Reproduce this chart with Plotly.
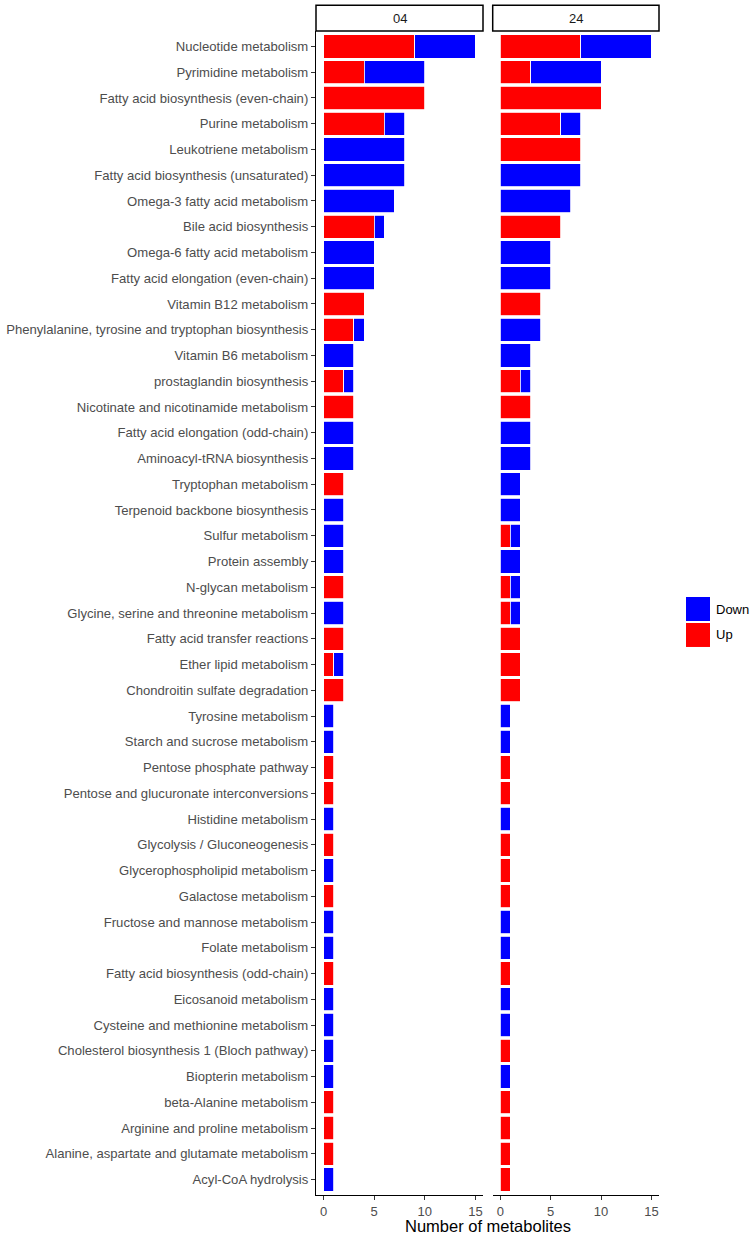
import plotly.graph_objects as go

pathways = [
    "Nucleotide metabolism",
    "Pyrimidine metabolism",
    "Fatty acid biosynthesis (even-chain)",
    "Purine metabolism",
    "Leukotriene metabolism",
    "Fatty acid biosynthesis (unsaturated)",
    "Omega-3 fatty acid metabolism",
    "Bile acid biosynthesis",
    "Omega-6 fatty acid metabolism",
    "Fatty acid elongation (even-chain)",
    "Vitamin B12 metabolism",
    "Phenylalanine, tyrosine and tryptophan biosynthesis",
    "Vitamin B6 metabolism",
    "prostaglandin biosynthesis",
    "Nicotinate and nicotinamide metabolism",
    "Fatty acid elongation (odd-chain)",
    "Aminoacyl-tRNA biosynthesis",
    "Tryptophan metabolism",
    "Terpenoid backbone biosynthesis",
    "Sulfur metabolism",
    "Protein assembly",
    "N-glycan metabolism",
    "Glycine, serine and threonine metabolism",
    "Fatty acid transfer reactions",
    "Ether lipid metabolism",
    "Chondroitin sulfate degradation",
    "Tyrosine metabolism",
    "Starch and sucrose metabolism",
    "Pentose phosphate pathway",
    "Pentose and glucuronate interconversions",
    "Histidine metabolism",
    "Glycolysis / Gluconeogenesis",
    "Glycerophospholipid metabolism",
    "Galactose metabolism",
    "Fructose and mannose metabolism",
    "Folate metabolism",
    "Fatty acid biosynthesis (odd-chain)",
    "Eicosanoid metabolism",
    "Cysteine and methionine metabolism",
    "Cholesterol biosynthesis 1 (Bloch pathway)",
    "Biopterin metabolism",
    "beta-Alanine metabolism",
    "Arginine and proline metabolism",
    "Alanine, aspartate and glutamate metabolism",
    "Acyl-CoA hydrolysis",
]

up_04 = [9, 4, 10, 6, 0, 0, 0, 5, 0, 0, 4, 3, 0, 2, 3, 0, 0, 2, 0, 0, 0, 2, 0, 2, 1, 2,
         0, 0, 1, 1, 0, 1, 0, 1, 0, 0, 1, 0, 0, 0, 0, 1, 1, 1, 0]
down_04 = [6, 6, 0, 2, 8, 8, 7, 1, 5, 5, 0, 1, 3, 1, 0, 3, 3, 0, 2, 2, 2, 0, 2, 0, 1, 0,
           1, 1, 0, 0, 1, 0, 1, 0, 1, 1, 0, 1, 1, 1, 1, 0, 0, 0, 1]
up_24 = [8, 3, 10, 6, 8, 0, 0, 6, 0, 0, 4, 0, 0, 2, 3, 0, 0, 0, 0, 1, 0, 1, 1, 2, 2, 2,
         0, 0, 1, 1, 0, 1, 1, 1, 0, 0, 1, 0, 0, 1, 0, 1, 1, 1, 1]
down_24 = [7, 7, 0, 2, 0, 8, 7, 0, 5, 5, 0, 4, 3, 1, 0, 3, 3, 2, 2, 1, 2, 1, 1, 0, 0, 0,
           1, 1, 0, 0, 1, 0, 0, 0, 1, 1, 0, 1, 1, 0, 1, 0, 0, 0, 0]

panels = ["04", "24"]
x_ticks = [0, 5, 10, 15]

RED = "#FF0000"
BLUE = "#0000FF"
FONT = "Liberation Sans, Arial, sans-serif"

W, H = 752, 1239
# target page positions of plot area
P_LEFT, P_RIGHT, P_TOP, P_BOTTOM = 316, 659, 30.5, 1195.5
ML = P_LEFT
MR = W - P_RIGHT
MT = P_TOP
MB = H - P_BOTTOM
PW = P_RIGHT - P_LEFT
PH = P_BOTTOM - P_TOP


def px_x(px):
    return (px - P_LEFT) / PW


def px_y(py):
    return (P_BOTTOM - py) / PH


def nz(v):
    return [x if x else None for x in v]


fig = go.Figure()
for xa, ups, downs in [("x", up_04, down_04), ("x2", up_24, down_24)]:
    ya = "y" if xa == "x" else "y2"
    fig.add_trace(go.Bar(
        y=pathways, x=nz(ups), orientation="h", name="Up",
        marker=dict(color=RED, line=dict(color="white", width=0.8)),
        xaxis=xa, yaxis=ya, showlegend=False,
    ))
    fig.add_trace(go.Bar(
        y=pathways, x=nz(downs), orientation="h", name="Down",
        marker=dict(color=BLUE, line=dict(color="white", width=0.8)),
        xaxis=xa, yaxis=ya, showlegend=False,
    ))

d1_end = px_x(483)
d2_start = px_x(492.7)

xcommon = dict(
    range=[-0.75, 15.75], tickvals=x_ticks, ticks="outside", ticklen=4,
    tickcolor="#333333", showline=True, linecolor="black", linewidth=1.2,
    showgrid=False, zeroline=False,
    tickfont=dict(family=FONT, size=13, color="#4D4D4D"),
)
ycommon = dict(
    type="category", categoryorder="array", categoryarray=pathways,
    range=[len(pathways) - 0.4, -0.6], showgrid=False, zeroline=False,
)

fig.update_layout(
    width=W, height=H,
    margin=dict(l=ML, r=MR, t=MT, b=MB, pad=0, autoexpand=False),
    paper_bgcolor="white", plot_bgcolor="white",
    barmode="stack", bargap=0.1,
    font=dict(family=FONT),
    xaxis=dict(domain=[0, d1_end], anchor="y", **xcommon),
    xaxis2=dict(domain=[d2_start, 1], anchor="y2", **xcommon),
    yaxis=dict(anchor="x", showline=True, linecolor="black", linewidth=1.2,
               ticks="outside", ticklen=4, tickcolor="#333333",
               tickfont=dict(family=FONT, size=13.1, color="#4D4D4D"),
               **ycommon),
    yaxis2=dict(anchor="x2", matches="y", showline=False, ticks="",
                showticklabels=False, **ycommon),
)

# facet strips
strip_y0 = px_y(30.5)
strip_y1 = px_y(4.7)
for lab, (a, b) in zip(panels, [(0, d1_end), (d2_start, 1)]):
    fig.add_shape(type="rect", xref="paper", yref="paper",
                  x0=a, x1=b, y0=strip_y0, y1=strip_y1,
                  line=dict(color="black", width=1.5), fillcolor="white")
    fig.add_annotation(x=(a + b) / 2, y=(strip_y0 + strip_y1) / 2,
                       xref="paper", yref="paper", text=lab, showarrow=False,
                       xanchor="center", yanchor="middle",
                       font=dict(family=FONT, size=13, color="#1A1A1A"))

# axis title
fig.add_annotation(x=px_x(487.5), y=px_y(1227), xref="paper", yref="paper",
                   text="Number of metabolites", showarrow=False,
                   xanchor="center", yanchor="middle",
                   font=dict(family=FONT, size=16.5, color="black"))

# legend
for lab, col, top in [("Down", BLUE, 597), ("Up", RED, 623)]:
    fig.add_shape(type="rect", xref="paper", yref="paper",
                  x0=px_x(686), x1=px_x(710), y0=px_y(top + 24), y1=px_y(top),
                  line=dict(width=0), fillcolor=col)
    fig.add_annotation(x=px_x(714), y=px_y(top + 12), xref="paper", yref="paper",
                       text=lab, showarrow=False, xanchor="left", yanchor="middle",
                       font=dict(family=FONT, size=13, color="black"))

fig.write_html(
    "out.html",
    config={"displayModeBar": False},
    post_script="document.body.style.margin='0';document.body.style.padding='0';"
                "document.body.style.overflow='hidden';",
)
